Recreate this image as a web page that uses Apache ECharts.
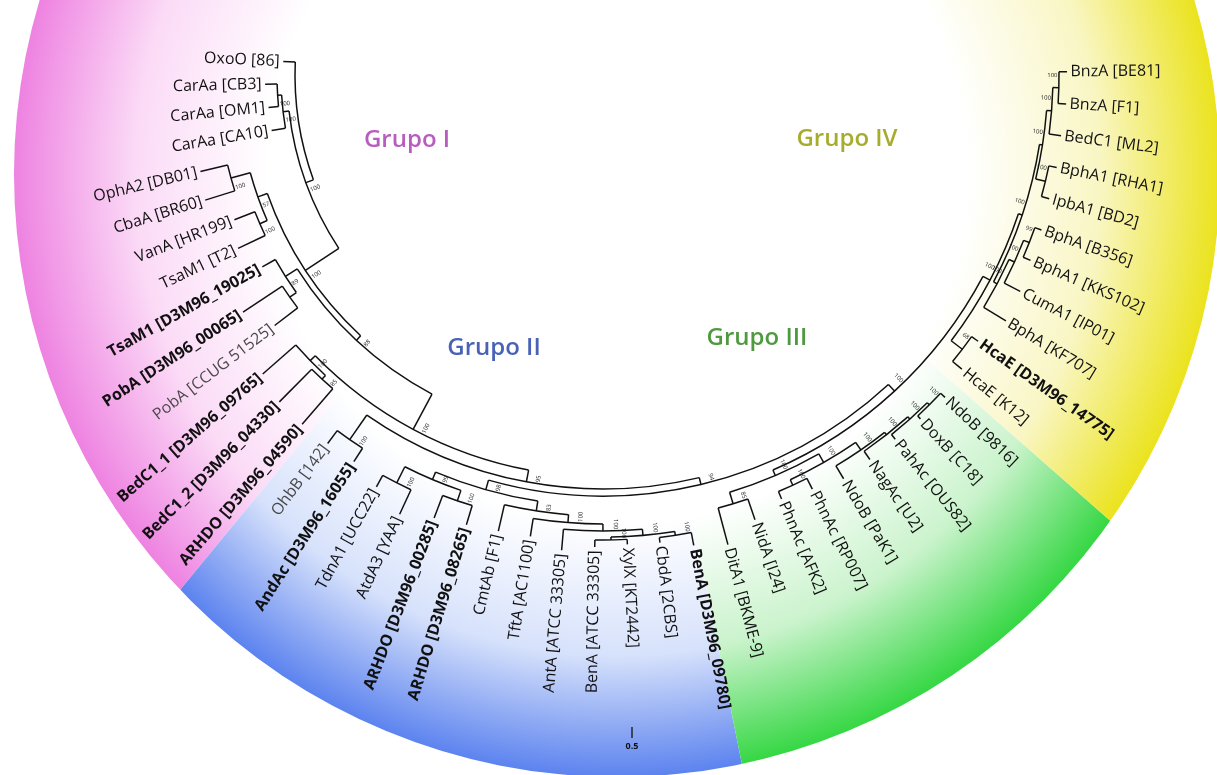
<!DOCTYPE html>
<html>
<head>
<meta charset="utf-8">
<script src="https://cdn.jsdelivr.net/npm/echarts@6/dist/echarts.min.js"></script>
<style>
  html, body { margin: 0; background: #fff; }
  #chart { width: 1217px; height: 775px; }
</style>
</head>
<body>
<div id="chart"></div>
<script>
// leaves, clockwise from the right (0 deg) round the bottom to the left
const leaves = [
  'BnzA [BE81]', 'BnzA [F1]', 'BedC1 [ML2]', 'BphA1 [RHA1]', 'IpbA1 [BD2]', 'BphA [B356]',
  'BphA1 [KKS102]', 'CumA1 [IP01]', 'BphA [KF707]', 'HcaE [D3M96_14775]', 'HcaE [K12]',
  'NdoB [9816]', 'DoxB [C18]', 'PahAc [OUS82]', 'NagAc [U2]', 'NdoB [PaK1]', 'PhnAc [RP007]',
  'PhnAc [AFK2]', 'NidA [I24]', 'DitA1 [BKME-9]',
  'BenA [D3M96_09780]', 'CbdA [2CBS]', 'XylX [KT2442]', 'BenA [ATCC 33305]', 'AntA [ATCC 33305]',
  'TftA [AC1100]', 'CmtAb [F1]', 'ARHDO [D3M96_08265]', 'ARHDO [D3M96_00285]', 'AtdA3 [YAA]',
  'TdnA1 [UCC22]', 'AndAc [D3M96_16055]', 'OhbB [142]',
  'ARHDO [D3M96_04590]', 'BedC1_2 [D3M96_04330]', 'BedC1_1 [D3M96_09765]', 'PobA [CCUG 51525]',
  'PobA [D3M96_00065]', 'TsaM1 [D3M96_19025]', 'TsaM1 [T2]', 'VanA [HR199]', 'CbaA [BR60]',
  'OphA2 [DB01]', 'CarAa [CA10]', 'CarAa [OM1]', 'CarAa [CB3]', 'OxoO [86]'
];
// tip depth of each leaf (radius units)
const tipR = [
  464, 464, 462, 463, 463, 465, 466, 470, 472, 460, 464,
  470, 468, 467, 468, 470, 464, 460, 470, 486,
  479, 471, 470, 472, 477, 467, 468, 470, 474, 484, 470, 460, 460,
  461, 460, 453, 413, 431, 391, 404, 396, 417, 414, 336, 336, 338, 320
];
const boldLeaf = [9, 20, 27, 28, 31, 33, 34, 35, 37, 38];
const lightLeaf = [32, 36];

// internal nodes: children (leaf index or node name), depth, bootstrap
const nodeName = [
  'p01', 'p012', 'p34', 'g4A', 'p56', 'p567', 'g4B', 'g4AB', 'hca', 'g4',
  'l1', 'l2', 'l3', 'l4', 'phn', 'g3a', 'nd', 'g3', 'g34',
  'p2223', 'p2021', 'q4', 'qA', 'qT', 'q83', 'pAR', 'pAT', 'q99', 'q98', 'n6', 'pAO', 'q95',
  'pB2', 'bed', 'n5', 'pPob', 'n89', 'n4', 'pVT', 'pOC', 'n57', 'n3', 'pCO', 'car', 'n2', 'root'
];
const nodeKids = [
  [0, 1], ['p01', 2], [3, 4], ['p012', 'p34'], [5, 6], ['p56', 7], ['p567', 8], ['g4A', 'g4B'], [9, 10], ['g4AB', 'hca'],
  [11, 12], ['l1', 13], ['l2', 14], ['l3', 15], [16, 17], ['l4', 'phn'], [18, 19], ['g3a', 'nd'], ['g4', 'g3'],
  [22, 23], [20, 21], ['p2021', 'p2223'], ['q4', 24], ['qA', 25], ['qT', 26], [27, 28], [29, 30], ['pAR', 'pAT'],
  ['q83', 'q99'], ['g34', 'q98'], [31, 32], ['n6', 'pAO'],
  [33, 34], ['pB2', 35], ['q95', 'bed'], [36, 37], ['pPob', 38], ['n5', 'n89'], [39, 40], [41, 42], ['pVT', 'pOC'],
  ['n4', 'n57'], [44, 45], [43, 'pCO'], ['n3', 'car'], ['n2', 46]
];
const nodeR = [
  456, 450, 455, 445, 458, 452, 446, 442, 452, 438,
  464, 461, 458, 455, 452, 446, 448, 436, 430,
  465, 466, 462, 456, 449, 441, 450, 457, 439, 431, 421, 444, 414,
  414, 409, 402, 384, 376, 362, 374, 386, 366, 356, 326, 322, 316, 308
];
const nodeBoot = [
  '100', '100', '100', '100', '99', '100', '100', '100', '68', '100',
  '100', '100', '100', '100', '100', '100', '85', '100', '100',
  '100', '100', '100', '100', '100', '83', '100', '100', '99', '98', '94', '100', '95',
  '85', '100', '100', '', '89', '88', '100', '100', '57', '100', '100', '100', '100', ''
];

const groupNames = ['Grupo I', 'Grupo II', 'Grupo III', 'Grupo IV'];
const groupColors = ['#b85dbf', '#4a62b6', '#4f9a40', '#a8ac2c'];

// layout: leaves evenly spread over the half circle
const A0 = -0.4, STEP = 3.974;
const angleOf = {}, parentR = {};
nodeName.forEach((n, i) => nodeKids[i].forEach(k => { parentR[k] = nodeR[i]; }));
function ang(k) {
  if (typeof k === 'number') return A0 + STEP * k;
  if (angleOf[k] === undefined) {
    const i = nodeName.indexOf(k);
    angleOf[k] = (ang(nodeKids[i][0]) + ang(nodeKids[i][1])) / 2;
  }
  return angleOf[k];
}

const data = [];
leaves.forEach((name, i) => {
  const a = ang(i);
  data.push([tipR[i], a, parentR[i], a, a, 0, i]);
});
nodeName.forEach((n, i) => {
  const a = ang(n);
  const ka = nodeKids[i].map(ang);
  const pr = parentR[n] === undefined ? nodeR[i] : parentR[n];
  data.push([nodeR[i], a, pr, Math.min(...ka), Math.max(...ka), 1, i]);
});

const LINE = { stroke: '#111', lineWidth: 1.5, fill: null };

function textAt(p, deg, txt, outward, style) {
  const left = deg > 90 && deg < 270;
  const rot = left ? -(deg - 180) * Math.PI / 180 : -deg * Math.PI / 180;
  let align = outward ? 'left' : 'right';
  if (left) align = outward ? 'right' : 'left';
  return {
    type: 'text', x: p[0], y: p[1], rotation: rot,
    style: Object.assign({ text: txt, align: align, verticalAlign: 'middle', fill: '#111' }, style)
  };
}

function renderItem(params, api) {
  const cx = params.coordSys.cx, cy = params.coordSys.cy;
  const r = api.value(0), a = api.value(1), pr = api.value(2);
  const kind = api.value(5), k = api.value(6);
  const p = api.coord([r, a]), q = api.coord([pr, a]);
  const kids = [];
  if (pr !== r) {
    kids.push({ type: 'line', shape: { x1: q[0], y1: q[1], x2: p[0], y2: p[1] }, style: LINE });
  }
  if (kind === 1) {
    const s = api.coord([r, api.value(3)]), e = api.coord([r, api.value(4)]);
    const rad = Math.hypot(s[0] - cx, s[1] - cy);
    const sa = Math.atan2(s[1] - cy, s[0] - cx);
    let ea = Math.atan2(e[1] - cy, e[0] - cx);
    if (ea < sa) ea += Math.PI * 2;
    kids.push({ type: 'arc', shape: { cx: cx, cy: cy, r: rad, startAngle: sa, endAngle: ea, clockwise: true }, style: LINE });
    if (nodeBoot[k]) {
      const b = api.coord([r - 1.5, a - 1.6]);
      kids.push(textAt(b, a - 1.6, nodeBoot[k], false, { fontSize: 6, fontFamily: 'Open Sans', fill: '#222' }));
    }
  } else {
    const t = api.coord([r + 3.5, a]);
    const bold = boldLeaf.includes(k), light = lightLeaf.includes(k);
    kids.push(textAt(t, a, leaves[k], true, {
      fontSize: 16, fontFamily: 'Open Sans',
      fontWeight: bold ? 'bold' : 'normal',
      fill: light ? '#4a4a4a' : '#111'
    }));
  }
  return { type: 'group', children: kids };
}

// background: four sectors fading from white to their group colour
const bgCx = 617, bgCy = 174, bgR = 603;
const sectorFrom = [129.4, 78.6, 41.3, -90];
const sectorTo = [270, 129.4, 78.6, 41.3];
const edgeColors = ['#ee82e1', '#5c83ef', '#36d744', '#ebe31d'];
const midColors = ['#fbdaf6', '#d6e1fb', '#caf3cc', '#f9f6c4'];
const rad = d => d * Math.PI / 180;

const graphic = [];
sectorFrom.forEach((s, i) => {
  graphic.push({
    type: 'sector', z: 0, silent: true,
    shape: { cx: 603, cy: 75, r: 1300, r0: 0, startAngle: rad(s), endAngle: rad(sectorTo[i]), clockwise: true },
    style: {
      fill: new echarts.graphic.RadialGradient(bgCx, bgCy, bgR, [
        { offset: 0, color: '#ffffff' },
        { offset: 0.58, color: '#ffffff' },
        { offset: 0.8, color: midColors[i] },
        { offset: 1, color: edgeColors[i] }
      ], true)
    }
  });
});
graphic.push({ type: 'ring', z: 1, silent: true, shape: { cx: bgCx, cy: bgCy, r: 1500, r0: bgR }, style: { fill: '#fff' } });
const groupPos = [[407, 140], [494, 348], [757, 338], [847, 139]];
groupNames.forEach((g, i) => {
  graphic.push({
    type: 'text', z: 10, x: groupPos[i][0], y: groupPos[i][1],
    style: { text: g, fill: groupColors[i], font: '600 24px "Open Sans"', align: 'center', verticalAlign: 'middle' }
  });
});
// scale bar
graphic.push({ type: 'line', z: 10, shape: { x1: 632, y1: 727, x2: 632, y2: 738 }, style: { stroke: '#111', lineWidth: 1.3 } });
graphic.push({ type: 'text', z: 10, x: 632, y: 746, style: { text: '0.5', fill: '#111', font: 'bold 9px "Open Sans"', align: 'center', verticalAlign: 'middle' } });

const chart = echarts.init(document.getElementById('chart'), null, { renderer: 'canvas' });
chart.setOption({
  animation: false,
  backgroundColor: '#fff',
  polar: { center: [603, 75], radius: 500 },
  radiusAxis: { min: 0, max: 500, show: false },
  angleAxis: { min: -90, max: 270, startAngle: 90, clockwise: true, show: false },
  graphic: graphic,
  series: [{
    type: 'custom',
    coordinateSystem: 'polar',
    z: 5,
    renderItem: renderItem,
    data: data
  }]
});
</script>
</body>
</html>
